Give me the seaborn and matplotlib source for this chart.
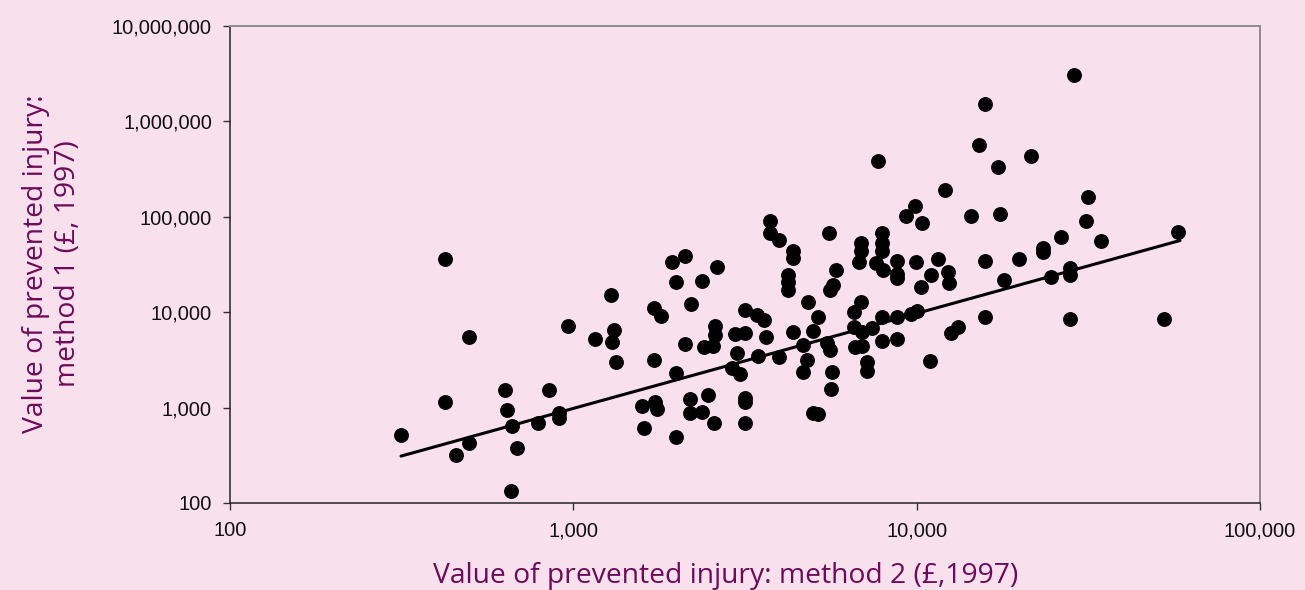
import matplotlib
matplotlib.use("Agg")
import matplotlib.pyplot as plt
import matplotlib.ticker as mticker
import pandas as pd
import seaborn as sns

# Values (method 2 on x, method 1 on y)
method2 = [315, 423, 423, 455, 497, 497, 632, 641, 663, 685, 658, 789, 849, 908, 908,
           966, 1288, 1156, 1315, 1297, 1331, 1718, 1800, 1939, 2113, 1990, 2371, 2203,
           1718, 2113, 2404, 1990, 1585, 1730, 1754, 1607, 2188, 2188, 2371, 1990, 2468,
           2570,
           2622, 2588, 2588, 2553, 3162, 3428, 3594, 2958, 3162, 3639, 3741, 3741, 3972,
           4363, 4363, 4217, 4217, 4217, 5558, 4363, 4830, 5164, 4990, 4667, 5483, 5597,
           3000, 3451, 3972, 2897, 3062, 4795, 4667, 5675, 5634, 3162, 3162, 3162, 4990,
           5164, 5821, 5705, 5597,
           6887, 6887, 6792, 7932, 7932, 7932, 7616, 7985, 8767, 8767, 8767, 9960, 11540,
           11020, 10300, 12340, 12420, 9894, 9310, 10370, 7727, 6887, 6571, 6571, 6934,
           7413, 7932, 8767, 9636, 10030, 6617, 6934, 7932, 8767, 7171, 7171, 10940,
           12590, 13210, 15810,
           28740, 15810, 15190, 17260, 21530, 12100, 31560, 14390, 17500, 31150, 26360,
           34440, 23330, 23330, 57700, 15810, 19870, 17980, 24600, 28000, 28000, 28000,
           52600]
method1 = [514, 36500, 1140, 318, 5450, 424, 1520, 940, 639, 376, 134, 687, 1520, 874, 775,
           7100, 15000, 5190, 6450, 4830, 2990, 10960, 9040, 33200, 38400, 20500, 21000,
           12080, 3130, 4600, 4280, 2290, 1035, 1140, 962, 609, 1220, 874, 895, 490, 1350,
           687,
           29400, 7100, 5720, 4390, 10450, 9260, 8210, 5860, 6000, 5450, 91200, 68400,
           56400, 44300, 37400, 24300, 20500, 16900, 68400, 6150, 12660, 8830, 6300, 4500,
           4720, 3980, 3710, 3450, 3370, 2580, 2240, 3130, 2350, 2350, 1560, 1250, 1140,
           687, 874, 853, 27400, 19050, 16900,
           53700, 44300, 33200, 68400, 53700, 44300, 32400, 28000, 34800, 25400, 22600,
           33200, 35700, 24300, 18200, 26100, 20000, 130900, 103000, 86900, 387000, 12660,
           9950, 6930, 6150, 6770, 8830, 8830, 9480, 10190, 4280, 4390, 4950, 5190, 2990,
           2400, 3060, 6000, 6930, 8830,
           3070000, 1528000, 569000, 335000, 436500, 192700, 162600, 103000, 107900, 91200,
           62100, 55100, 47600, 43200, 70000, 34800, 35700, 22000, 23100, 28700, 24800,
           8410, 8410]

# Trend line end points
trend_x = [315, 58500]
trend_y = [310, 56400]

x_ticks = [100, 1000, 10000, 100000]
y_ticks = [100, 1000, 10000, 100000, 1000000, 10000000]

bg = "#F8E1EC"
purple = "#6E0A5A"
label_font = ["Open Sans", "DejaVu Sans"]

df = pd.DataFrame({"method2": method2, "method1": method1})

sns.set_theme(style="white")
plt.rcParams["font.family"] = ["Liberation Sans", "DejaVu Sans"]

fig = plt.figure(figsize=(13.05, 5.90), dpi=100)
fig.patch.set_facecolor(bg)
ax = fig.add_axes([0.1762, 0.1475, 0.7893, 0.8085])
ax.set_facecolor(bg)

ax.plot(trend_x, trend_y, color="black", linewidth=2.2, zorder=2)
sns.scatterplot(data=df, x="method2", y="method1", color="black", s=115,
                edgecolor="black", linewidth=0, ax=ax, zorder=3)

ax.set_xscale("log")
ax.set_yscale("log")
ax.set_xlim(100, 100000)
ax.set_ylim(100, 10000000)
ax.set_xticks(x_ticks)
ax.set_yticks(y_ticks)
ax.xaxis.set_minor_locator(mticker.NullLocator())
ax.yaxis.set_minor_locator(mticker.NullLocator())
fmt = mticker.FuncFormatter(lambda v, p: f"{int(round(v)):,}")
ax.xaxis.set_major_formatter(fmt)
ax.yaxis.set_major_formatter(fmt)
ax.tick_params(axis="both", which="major", direction="out", length=5, width=1,
               color="#333333", labelsize=14.5, labelcolor="#111111",
               bottom=True, left=True)
ax.tick_params(axis="x", pad=8)
ax.tick_params(axis="y", pad=8)

for side in ["left", "bottom"]:
    ax.spines[side].set_color("#222222")
    ax.spines[side].set_linewidth(1.1)
for side in ["top", "right"]:
    ax.spines[side].set_color("#8C8C8C")
    ax.spines[side].set_linewidth(1.4)

ax.set_xlabel("")
ax.set_ylabel("")
fig.text(0.556, 0.024, "Value of prevented injury: method 2 (£,1997)",
         ha="center", va="center", fontsize=20.3, color=purple, family=label_font)
fig.text(0.040, 0.553, "Value of prevented injury:\nmethod 1 (£, 1997)", rotation=90,
         ha="center", va="center", fontsize=20.3, color=purple,
         family=label_font, linespacing=1.2)

fig.savefig("out.png", dpi=100, facecolor=bg)
